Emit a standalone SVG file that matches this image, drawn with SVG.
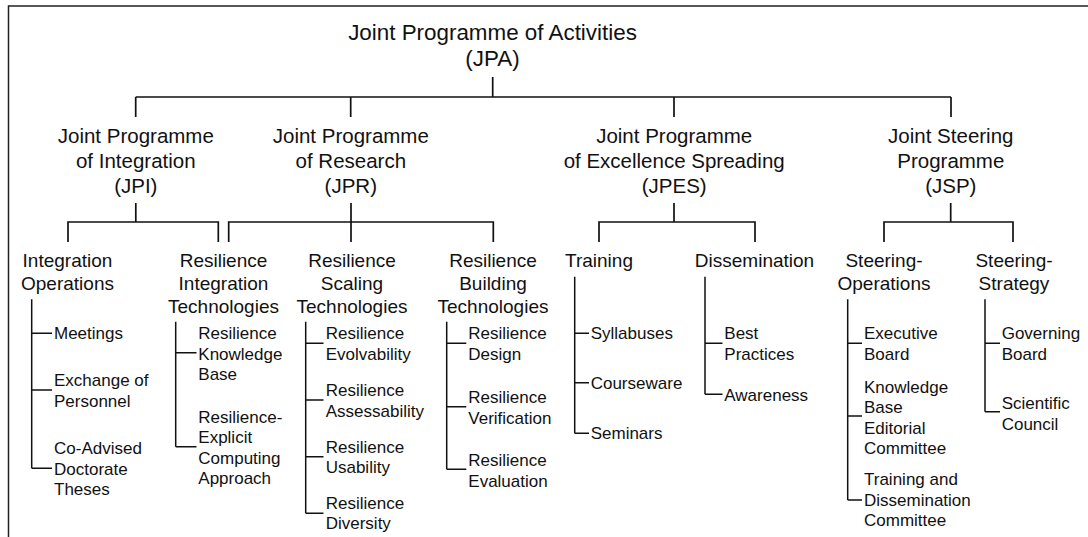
<svg xmlns="http://www.w3.org/2000/svg" width="1088" height="537" viewBox="0 0 1088 537">
  <style>
    text { font-family: "Liberation Sans", Arial, sans-serif; fill: #111; }
    .t0 { font-size: 22.4px; text-anchor: middle; }
    .t1 { font-size: 20.5px; text-anchor: middle; }
    .t2 { font-size: 19px; text-anchor: middle; }
    .t3 { font-size: 17px; }
    .frame { fill: none; stroke: #222; stroke-width: 1.5; }
    .ln { fill: none; stroke: #111; stroke-width: 1.7; }
    .tr { fill: none; stroke: #111; stroke-width: 1.5; }
  </style>
  <rect width="1088" height="537" fill="#fff"/>
  <path class="frame" d="M1088 6 H8.5 V537"/>

  <!-- tree connectors -->
  <g id="connectors">
    <path class="ln" d="M492.7 77 V97 M135.7 97 H951 M135.7 97 V117 M350.7 97 V117 M674 97 V117 M951 97 V117"/>
    <path class="ln" d="M135.8 203 V222 M68 242 V222 H218.3 V242"/>
    <path class="ln" d="M351 203 V242 M228.7 242 V222 H493.3 V242"/>
    <path class="ln" d="M674 203 V222 M599 242 V222 H755 V242"/>
    <path class="ln" d="M950.7 203 V222 M884 242 V222 H1013 V242"/>
    <!-- leaf branches -->
    <path class="tr" d="M31.7 299.3 V468.3 M31.7 333.3 H52 M31.7 390 H52 M31.7 468.3 H52"/>
    <path class="tr" d="M175.7 321.7 V446.7 M175.7 352.7 H196.5 M175.7 446.7 H196.5"/>
    <path class="tr" d="M305.7 321.7 V513.3 M305.7 343.3 H323.5 M305.7 400 H323.5 M305.7 456.7 H323.5 M305.7 513.3 H323.5"/>
    <path class="tr" d="M446.7 321.7 V469.3 M446.7 343.3 H466.3 M446.7 406.7 H466.3 M446.7 469.3 H466.3"/>
    <path class="tr" d="M574.7 276.7 V433.3 M574.7 333.3 H589 M574.7 382.7 H589 M574.7 433.3 H589"/>
    <path class="tr" d="M705 276.7 V394.3 M705 343.3 H722.5 M705 394.3 H722.5"/>
    <path class="tr" d="M847.7 299.3 V500 M847.7 343.3 H862 M847.7 416 H862 M847.7 500 H862"/>
    <path class="tr" d="M985 299.3 V411.7 M985 343.3 H1000 M985 411.7 H1000"/>
  </g>

  <!-- root -->
  <g id="jpa">
    <text class="t0" x="492.5" y="39.5">Joint Programme of Activities</text>
    <text class="t0" x="492.5" y="65.5">(JPA)</text>
  </g>

  <!-- programmes -->
  <g id="jpi">
    <text class="t1" x="135.8" y="143.3">Joint Programme</text>
    <text class="t1" x="135.8" y="168">of Integration</text>
    <text class="t1" x="135.8" y="192.7">(JPI)</text>
  </g>
  <g id="jpr">
    <text class="t1" x="350.8" y="143.3">Joint Programme</text>
    <text class="t1" x="350.8" y="168">of Research</text>
    <text class="t1" x="350.8" y="192.7">(JPR)</text>
  </g>
  <g id="jpes">
    <text class="t1" x="674.2" y="143.3">Joint Programme</text>
    <text class="t1" x="674.2" y="168">of Excellence Spreading</text>
    <text class="t1" x="674.2" y="192.7">(JPES)</text>
  </g>
  <g id="jsp">
    <text class="t1" x="950.8" y="143.3">Joint Steering</text>
    <text class="t1" x="950.8" y="168">Programme</text>
    <text class="t1" x="950.8" y="192.7">(JSP)</text>
  </g>

  <!-- activities -->
  <g id="integration-operations">
    <text class="t2" x="67.5" y="267">Integration</text>
    <text class="t2" x="67.5" y="290">Operations</text>
  </g>
  <g id="resilience-integration">
    <text class="t2" x="223.5" y="267">Resilience</text>
    <text class="t2" x="223.5" y="290">Integration</text>
    <text class="t2" x="223.5" y="312.7">Technologies</text>
  </g>
  <g id="resilience-scaling">
    <text class="t2" x="352" y="267">Resilience</text>
    <text class="t2" x="352" y="290">Scaling</text>
    <text class="t2" x="352" y="312.7">Technologies</text>
  </g>
  <g id="resilience-building">
    <text class="t2" x="493" y="267">Resilience</text>
    <text class="t2" x="493" y="290">Building</text>
    <text class="t2" x="493" y="312.7">Technologies</text>
  </g>
  <g id="training">
    <text class="t2" x="599" y="267">Training</text>
  </g>
  <g id="dissemination">
    <text class="t2" x="754.5" y="267">Dissemination</text>
  </g>
  <g id="steering-operations">
    <text class="t2" x="884" y="267">Steering-</text>
    <text class="t2" x="884" y="290">Operations</text>
  </g>
  <g id="steering-strategy">
    <text class="t2" x="1014" y="267">Steering-</text>
    <text class="t2" x="1014" y="290">Strategy</text>
  </g>

  <!-- leaves: integration operations -->
  <g id="meetings"><text class="t3" x="54" y="339.3">Meetings</text></g>
  <g id="exchange"><text class="t3" x="54" y="386">Exchange of</text><text class="t3" x="54" y="406.5">Personnel</text></g>
  <g id="doctorate"><text class="t3" x="54" y="454.3">Co-Advised</text><text class="t3" x="54" y="474.8">Doctorate</text><text class="t3" x="54" y="495.3">Theses</text></g>

  <!-- leaves: resilience integration technologies -->
  <g id="knowledge-base"><text class="t3" x="198.3" y="339.3">Resilience</text><text class="t3" x="198.3" y="359.8">Knowledge</text><text class="t3" x="198.3" y="380.3">Base</text></g>
  <g id="explicit-computing"><text class="t3" x="198.3" y="422.7">Resilience-</text><text class="t3" x="198.3" y="443.2">Explicit</text><text class="t3" x="198.3" y="463.7">Computing</text><text class="t3" x="198.3" y="484.2">Approach</text></g>

  <!-- leaves: resilience scaling technologies -->
  <g id="evolvability"><text class="t3" x="325.7" y="339.3">Resilience</text><text class="t3" x="325.7" y="359.8">Evolvability</text></g>
  <g id="assessability"><text class="t3" x="325.7" y="396">Resilience</text><text class="t3" x="325.7" y="416.5">Assessability</text></g>
  <g id="usability"><text class="t3" x="325.7" y="452.7">Resilience</text><text class="t3" x="325.7" y="473.2">Usability</text></g>
  <g id="diversity"><text class="t3" x="325.7" y="508.7">Resilience</text><text class="t3" x="325.7" y="529.2">Diversity</text></g>

  <!-- leaves: resilience building technologies -->
  <g id="design"><text class="t3" x="468.3" y="339.3">Resilience</text><text class="t3" x="468.3" y="359.8">Design</text></g>
  <g id="verification"><text class="t3" x="468.3" y="403.3">Resilience</text><text class="t3" x="468.3" y="423.8">Verification</text></g>
  <g id="evaluation"><text class="t3" x="468.3" y="466">Resilience</text><text class="t3" x="468.3" y="486.5">Evaluation</text></g>

  <!-- leaves: training -->
  <g id="syllabuses"><text class="t3" x="590.7" y="339.3">Syllabuses</text></g>
  <g id="courseware"><text class="t3" x="590.7" y="388.7">Courseware</text></g>
  <g id="seminars"><text class="t3" x="590.7" y="439.3">Seminars</text></g>

  <!-- leaves: dissemination -->
  <g id="best-practices"><text class="t3" x="724.3" y="339.3">Best</text><text class="t3" x="724.3" y="359.8">Practices</text></g>
  <g id="awareness"><text class="t3" x="724.3" y="400.5">Awareness</text></g>

  <!-- leaves: steering operations -->
  <g id="executive-board"><text class="t3" x="864" y="339.3">Executive</text><text class="t3" x="864" y="359.8">Board</text></g>
  <g id="kb-editorial"><text class="t3" x="864" y="392.7">Knowledge</text><text class="t3" x="864" y="413.2">Base</text><text class="t3" x="864" y="433.7">Editorial</text><text class="t3" x="864" y="454.2">Committee</text></g>
  <g id="td-committee"><text class="t3" x="864" y="485">Training and</text><text class="t3" x="864" y="505.5">Dissemination</text><text class="t3" x="864" y="526">Committee</text></g>

  <!-- leaves: steering strategy -->
  <g id="governing-board"><text class="t3" x="1001.7" y="339.3">Governing</text><text class="t3" x="1001.7" y="359.8">Board</text></g>
  <g id="scientific-council"><text class="t3" x="1001.7" y="409.3">Scientific</text><text class="t3" x="1001.7" y="429.8">Council</text></g>
</svg>
